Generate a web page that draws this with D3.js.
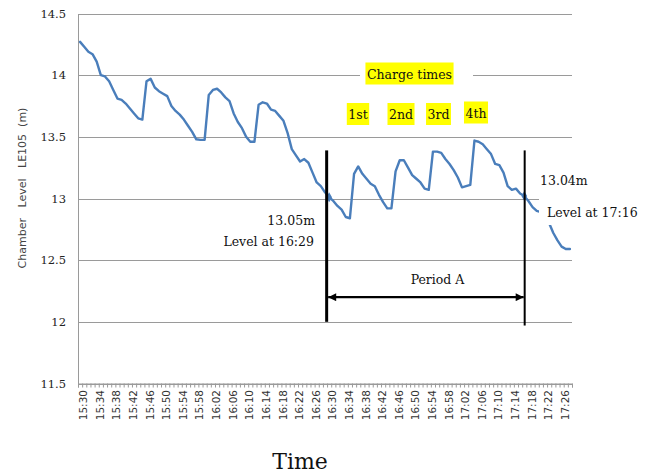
<!DOCTYPE html>
<html>
<head>
<meta charset="utf-8">
<script src="https://cdn.jsdelivr.net/npm/d3@7"></script>
<style>
  html, body { margin: 0; padding: 0; background: #fff; }
  svg { display: block; }
</style>
</head>
<body>
<svg id="chart" width="649" height="476"></svg>
<script>
// Chamber level LE105, one reading per minute from 15:30 to 17:28
const startTime = "15:30";
const levels = [
  14.27, 14.23, 14.19, 14.17, 14.11, 14.00, 13.99, 13.95, 13.88, 13.81,
  13.80, 13.77, 13.73, 13.69, 13.65, 13.64, 13.95, 13.97, 13.90, 13.87,
  13.85, 13.83, 13.75, 13.71, 13.68, 13.64, 13.59, 13.54, 13.48, 13.475,
  13.475, 13.84, 13.88, 13.89, 13.86, 13.82, 13.79, 13.69, 13.62, 13.57,
  13.50, 13.46, 13.46, 13.76, 13.78, 13.77, 13.72, 13.71, 13.67, 13.63,
  13.53, 13.40, 13.35, 13.30, 13.32, 13.29, 13.21, 13.13, 13.10, 13.05,
  13.01, 12.98, 12.94, 12.91, 12.85, 12.84, 13.20, 13.26, 13.20, 13.16,
  13.12, 13.10, 13.03, 12.97, 12.92, 12.92, 13.22, 13.31, 13.31, 13.25,
  13.19, 13.16, 13.13, 13.08, 13.07, 13.38, 13.38, 13.37, 13.32, 13.28,
  13.23, 13.17, 13.09, 13.10, 13.11, 13.47, 13.46, 13.44, 13.40, 13.36,
  13.28, 13.27, 13.21, 13.10, 13.07, 13.08, 13.04, 13.02, 12.98, 12.93,
  12.90, 12.89, 12.86, 12.80, 12.72, 12.66, 12.61, 12.59, 12.59
];
// Axis labels every four minutes
const tickLabels = [
  "15:30", "15:34", "15:38", "15:42", "15:46", "15:50", "15:54", "15:58",
  "16:02", "16:06", "16:10", "16:14", "16:18", "16:22", "16:26", "16:30",
  "16:34", "16:38", "16:42", "16:46", "16:50", "16:54", "16:58", "17:02",
  "17:06", "17:10", "17:14", "17:18", "17:22", "17:26"
];
const yTicks = [11.5, 12, 12.5, 13, 13.5, 14, 14.5];
const chargeLabels = ["1st", "2nd", "3rd", "4th"];
// Reference readings at the period bounds (minute index, level)
const periodStart = { idx: 59, level: 13.05, time: "16:29" };
const periodEnd = { idx: 106, level: 13.04, time: "17:16" };
// Period A line positions in minute units
const periodLines = [59.4, 107.1];
const highlightIdx = [60, 107];

const svg = d3.select("#chart");
const plotLeft = 78, plotRight = 572, plotTop = 13.5, plotBottom = 383.5;

const x = d3.scaleLinear().domain([-0.5, levels.length - 0.5]).range([plotLeft, plotRight]);
const y = d3.scaleLinear().domain([11.5, 14.5]).range([plotBottom, plotTop]);

const minuteOf = t => { const [h, m] = t.split(":").map(Number); return h * 60 + m; };
const t0 = minuteOf(startTime);

// Horizontal gridlines and left axis
const yAxis = d3.axisLeft(y).tickValues(yTicks).tickSize(-(plotRight - plotLeft)).tickPadding(12)
  .tickFormat(d3.format(""));
const gy = svg.append("g").attr("transform", `translate(${plotLeft},0)`).call(yAxis);
gy.select(".domain").remove();
gy.selectAll(".tick line").attr("stroke", "#9a9a9a").attr("stroke-width", 1).attr("shape-rendering", "crispEdges");
gy.selectAll(".tick text").attr("font-family", "DejaVu Serif").attr("font-size", 11.5).attr("fill", "#222");
svg.append("line").attr("x1", plotLeft).attr("x2", plotLeft).attr("y1", plotTop).attr("y2", plotBottom)
  .attr("stroke", "#9a9a9a").attr("shape-rendering", "crispEdges");

// Minute ticks on the bottom axis
const xAxis = d3.axisBottom(x).tickValues(d3.range(-0.5, levels.length, 1)).tickSize(4).tickFormat("");
const gx = svg.append("g").attr("transform", `translate(0,${plotBottom})`).call(xAxis);
gx.select(".domain").attr("stroke", "#9a9a9a");
gx.selectAll(".tick line").attr("stroke", "#9a9a9a");

// Rotated time labels
svg.append("g").selectAll("text").data(tickLabels).join("text")
  .attr("transform", d => `translate(${x(minuteOf(d) - t0) + 3.5},390) rotate(-90)`)
  .attr("text-anchor", "end").attr("dy", "0.35em")
  .attr("font-family", "DejaVu Sans").attr("font-size", 10.5).attr("fill", "#333")
  .text(d => d);

// Axis titles
svg.append("text").attr("transform", "translate(26,188) rotate(-90)")
  .attr("text-anchor", "middle").attr("font-family", "DejaVu Sans").attr("font-size", 11)
  .attr("fill", "#444").attr("xml:space", "preserve")
  .text("Chamber   Level   LE105  (m)");
svg.append("text").attr("x", 300).attr("y", 469).attr("text-anchor", "middle")
  .attr("font-family", "DejaVu Serif").attr("font-size", 22).attr("fill", "#111").text("Time");

// Level series
const line = d3.line().x((d, i) => x(i)).y(d => y(d));
svg.append("path").datum(levels).attr("d", line).attr("fill", "none")
  .attr("stroke", "#4a7ebb").attr("stroke-width", 2.4).attr("stroke-linejoin", "round").attr("stroke-linecap", "round");
svg.append("g").selectAll("path").data(highlightIdx).join("path")
  .attr("transform", i => `translate(${x(i)},${y(levels[i])})`)
  .attr("d", d3.symbol(d3.symbolDiamond, 28)).attr("fill", "#4a7ebb");

// Annotation text, optionally on a highlighted box
const serif = "DejaVu Serif";
function label(txt, xPos, yPos, anchor, bg) {
  const g = svg.append("g");
  const t = g.append("text").attr("x", xPos).attr("y", yPos).attr("text-anchor", anchor || "start")
    .attr("font-family", serif).attr("font-size", 12.5).attr("fill", "#111").text(txt);
  if (bg) {
    const b = t.node().getBBox();
    g.insert("rect", "text").attr("x", b.x - 1.5).attr("y", b.y - 4)
      .attr("width", b.width + 3).attr("height", b.height + 7).attr("fill", bg);
  }
  return g;
}

// Cover boxes behind the callouts
svg.append("rect").attr("x", 360).attr("y", 60).attr("width", 113).attr("height", 27).attr("fill", "#fff");
svg.append("rect").attr("x", 539).attr("y", 168).attr("width", 95).attr("height", 57).attr("fill", "#fff");

label("Charge times", 409.5, 78.5, "middle", "#ffff00");
const chargeX = [358, 401, 438.5, 476];
chargeLabels.forEach((c, i) => label(c, chargeX[i], i === 3 ? 117.5 : 119, "middle", "#ffff00"));

label(periodStart.level.toFixed(2) + "m", 315, 225, "end");
label("Level at " + periodStart.time, 314, 246, "end");
label(periodEnd.level.toFixed(2) + "m", 540, 185, "start");
label("Level at " + periodEnd.time, 547, 217, "start");

// Period A bounds and span arrow
svg.append("line").attr("x1", x(periodLines[0])).attr("x2", x(periodLines[0]))
  .attr("y1", y(13.39)).attr("y2", y(12.0)).attr("stroke", "#000").attr("stroke-width", 3);
svg.append("line").attr("x1", x(periodLines[1])).attr("x2", x(periodLines[1]))
  .attr("y1", y(13.39)).attr("y2", y(11.97)).attr("stroke", "#000").attr("stroke-width", 2);

const defs = svg.append("defs");
["start", "end"].forEach(k => {
  defs.append("marker").attr("id", "arrow-" + k).attr("viewBox", "0 0 10 10")
    .attr("refX", k === "end" ? 10 : 0).attr("refY", 5)
    .attr("markerWidth", 9).attr("markerHeight", 8).attr("markerUnits", "userSpaceOnUse")
    .attr("orient", "auto")
    .append("path").attr("d", k === "end" ? "M0,0L10,5L0,10Z" : "M10,0L0,5L10,10Z").attr("fill", "#000");
});
const arrowY = y(12.2);
svg.append("line").attr("x1", x(periodLines[0]) + 1.5).attr("x2", x(periodLines[1]) - 1)
  .attr("y1", arrowY).attr("y2", arrowY).attr("stroke", "#000").attr("stroke-width", 2.2)
  .attr("marker-start", "url(#arrow-start)").attr("marker-end", "url(#arrow-end)");
label("Period A", 437.5, 284, "middle");
</script>
</body>
</html>
